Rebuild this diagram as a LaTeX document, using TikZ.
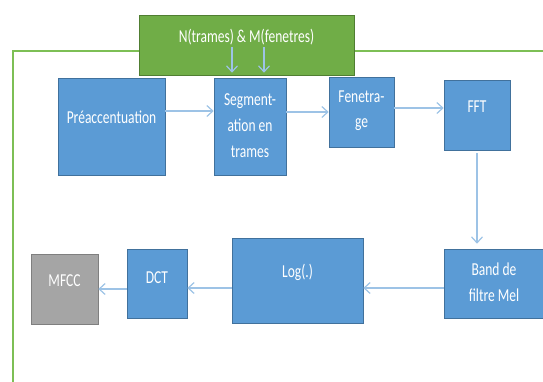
\documentclass[tikz,border=0pt]{standalone}
\usepackage{fontspec}
\setmainfont{Carlito}
\usepackage{graphicx}
\usetikzlibrary{arrows.meta}

\definecolor{boxblue}{HTML}{5B9BD5}
\definecolor{boxedge}{HTML}{41719C}
\definecolor{grfill}{HTML}{70AD47}
\definecolor{gredge}{HTML}{507E32}
\definecolor{grline}{HTML}{7DBF55}
\definecolor{grayfill}{HTML}{A5A5A5}
\definecolor{grayedge}{HTML}{7F7F7F}
\definecolor{arrblue}{HTML}{9DC3E6}

% tall, narrow text as in the slide; optional lift for one-line labels
\newcommand\sq[2][16pt]{\raisebox{0pt}[\height][\dimexpr\depth+#1\relax]{%
  \scalebox{1}[1.35]{\fontsize{13.5}{19}\selectfont\begin{tabular}{@{}c@{}}#2\end{tabular}}}}

\tikzset{
  bbox/.style={draw=boxedge, fill=boxblue, text=white, line width=0.6pt, inner sep=0pt},
  gbox/.style={bbox, draw=gredge, fill=grfill},
  mbox/.style={bbox, draw=grayedge, fill=grayfill},
  arr/.style={draw=arrblue, line width=1.2pt, -{Straight Barb[length=6pt,width=11pt]}},
}

\begin{document}
\begin{tikzpicture}[x=1pt, y=-1pt]
  \useasboundingbox (0,0) rectangle (543,381);
  % Outer frame
  \draw[grline, line width=1.3pt] (13,390) -- (13,51) -- (550,51);
  % Parameters box
  \node[gbox, minimum width=215pt, minimum height=60pt] (param) at (246.5,45) {\sq{N(trames) \& M(fenetres)}};
  % First row
  \node[bbox, minimum width=107pt, minimum height=97pt] (pre) at (111.5,126.5) {\sq{Préaccentuation}};
  \node[bbox, minimum width=72pt, minimum height=97pt] (seg) at (250,126.5) {\sq[0pt]{Segment-\\ation en\\trames}};
  \node[bbox, minimum width=65pt, minimum height=70pt] (fen) at (361.5,112) {\sq[4pt]{Fenetra-\\ge}};
  \node[bbox, minimum width=66pt, minimum height=70pt] (fft) at (477,115) {\sq{FFT}};
  % Second row
  \node[bbox, minimum width=100pt, minimum height=69pt] (mel) at (494,283.5) {\sq[0pt]{Band de\\filtre Mel}};
  \node[bbox, minimum width=131pt, minimum height=85pt] (log) at (297.5,280.5) {\sq{Log(.)}};
  \node[bbox, minimum width=60pt, minimum height=69pt] (dct) at (157,283.5) {\sq[10pt]{DCT}};
  \node[mbox, minimum width=67pt, minimum height=70pt] (mfcc) at (64.5,289) {\sq{MFCC}};
  % Arrows
  \coordinate (n1) at (232,47);
  \coordinate (m1) at (264,47);
  \draw[arr, shorten >=5pt] (n1) -- (n1 |- seg.north);
  \draw[arr, shorten >=5pt] (m1) -- (m1 |- seg.north);
  \draw[arr] (pre.east |- 0,111) -- (seg.west |- 0,111);
  \draw[arr] (seg.east |- 0,112) -- (fen.west |- 0,112);
  \draw[arr] (fen.east |- 0,108) -- (fft.west |- 0,108);
  \draw[arr, shorten <=3pt, shorten >=5pt] (fft.south) -- (fft.south |- mel.north);
  \draw[arr] (mel.west |- 0,288) -- (log.east |- 0,288);
  \draw[arr] (log.west |- 0,288) -- (dct.east |- 0,288);
  \draw[arr] (dct.west |- 0,289) -- (mfcc.east |- 0,289);
\end{tikzpicture}
\end{document}
